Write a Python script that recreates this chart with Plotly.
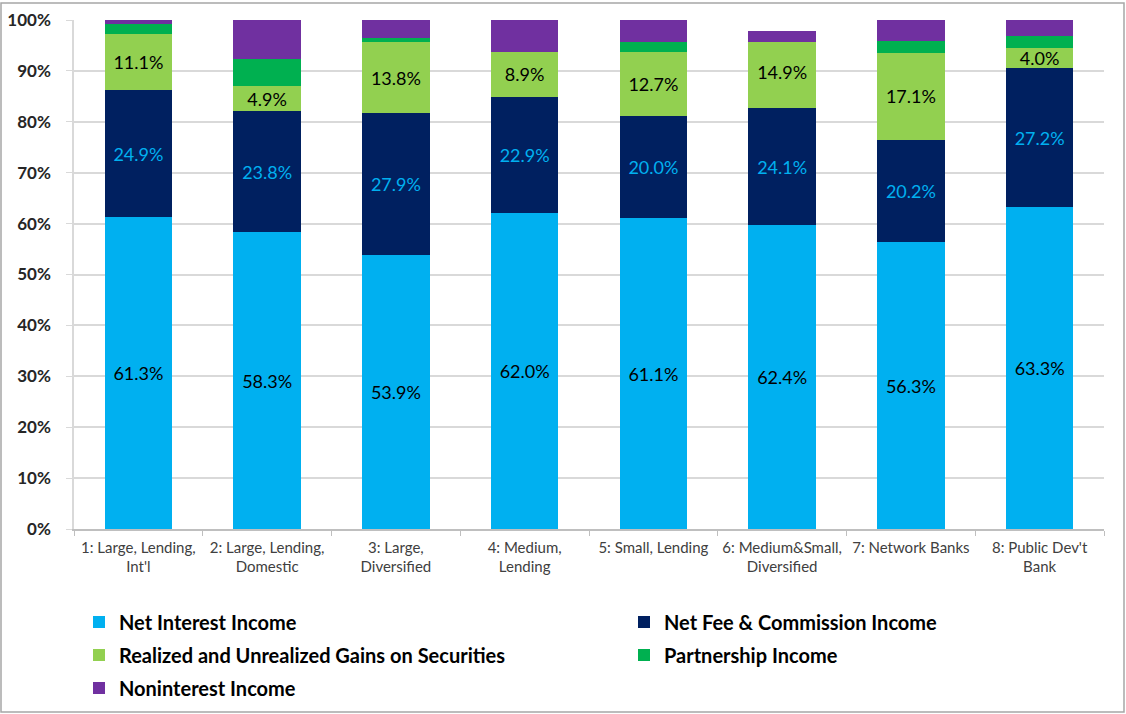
import plotly.graph_objects as go

# Peer-group income mix (percent of gross income)
categories = [
    "1: Large, Lending,<br>Int'l",
    "2: Large, Lending,<br>Domestic",
    "3: Large,<br>Diversified",
    "4: Medium,<br>Lending",
    "5: Small, Lending",
    "6: Medium&Small,<br>Diversified",
    "7: Network Banks",
    "8: Public Dev't<br>Bank",
]
net_interest = [61.3, 58.3, 53.9, 62.0, 61.1, 62.4, 56.3, 63.3]
net_fee = [24.9, 23.8, 27.9, 22.9, 20.0, 24.1, 20.2, 27.2]
gains = [11.1, 4.9, 13.8, 8.9, 12.7, 14.9, 17.1, 4.0]
partnership = [1.9, 5.4, 0.9, 0.0, 1.9, 0.9, 2.3, 2.4]
noninterest = [0.8, 7.6, 3.5, 6.2, 4.3, -2.3, 4.1, 3.1]

FONT = "Lato"
W, H = 1126, 714
ML, MR, MT, MB = 74, 22, 20, 185
PW, PH = W - ML - MR, H - MT - MB


def px_to_paper_y(py):
    return (H - MB - py) / PH


def px_to_paper_x(px):
    return (px - ML) / PW


# name, values, fill, label colour, show labels, legend id, legend text position (px)
series = [
    ("Net Interest Income", net_interest, "#00B0F0", "#000000", True, "legend", (120, 622)),
    ("Net Fee & Commission Income", net_fee, "#002060", "#00B0F0", True, "legend2", (665, 622)),
    ("Realized and Unrealized Gains on Securities", gains, "#92D050", "#000000", True, "legend3", (120, 655)),
    ("Partnership Income", partnership, "#00B050", "#000000", False, "legend4", (665, 655)),
    ("Noninterest Income", noninterest, "#7030A0", "#000000", False, "legend5", (120, 688)),
]

# 100% stacked: each component as a share of the absolute total per group
totals = [sum(abs(s[1][i]) for s in series) for i in range(len(categories))]

fig = go.Figure()
legends = {}
for name, vals, color, tcolor, labelled, leg, (lx, ly) in series:
    shares = [v / t * 100 for v, t in zip(vals, totals)]
    fig.add_trace(go.Bar(
        name=name,
        x=categories,
        y=shares,
        customdata=vals,
        marker=dict(color=color, line=dict(width=0)),
        texttemplate="%{customdata:.1f}%" if labelled else None,
        textposition="inside" if labelled else "none",
        insidetextanchor="middle",
        textangle=0,
        constraintext="none",
        textfont=dict(family=FONT, size=18, color=tcolor),
        legend=leg,
        hoverinfo="skip",
    ))
    legends[leg] = dict(
        orientation="v",
        xanchor="left",
        yanchor="middle",
        x=px_to_paper_x(lx - 41),
        y=px_to_paper_y(ly),
        font=dict(family=FONT, size=20, color="#000000", weight="bold"),
        bgcolor="rgba(0,0,0,0)",
        itemclick=False,
        itemdoubleclick=False,
    )

fig.update_layout(
    width=W,
    height=H,
    margin=dict(l=ML, r=MR, t=MT, b=MB, autoexpand=False),
    barmode="stack",
    bargap=0.474,
    plot_bgcolor="white",
    paper_bgcolor="white",
    font=dict(family=FONT),
    showlegend=True,
    **legends,
    xaxis=dict(
        showline=True,
        linecolor="#BFBFBF",
        linewidth=1.5,
        ticks="outside",
        tickson="boundaries",
        ticklen=5,
        tickcolor="#BFBFBF",
        tickangle=0,
        ticklabelstandoff=4,
        tickfont=dict(family=FONT, size=15, color="#404040"),
        showgrid=False,
    ),
    yaxis=dict(
        range=[0, 100],
        dtick=10,
        ticksuffix="%",
        showgrid=True,
        gridcolor="#D9D9D9",
        gridwidth=1.5,
        zeroline=False,
        showline=True,
        linecolor="#D9D9D9",
        linewidth=1.5,
        ticks="outside",
        ticklen=6,
        tickcolor="#D9D9D9",
        ticklabelstandoff=12,
        tickfont=dict(family=FONT, size=17, color="#262626", weight="bold"),
    ),
    shapes=[dict(
        type="rect",
        xref="paper", yref="paper",
        x0=px_to_paper_x(1), x1=px_to_paper_x(1124),
        y0=px_to_paper_y(712), y1=px_to_paper_y(3),
        line=dict(color="#A6A6A6", width=1.5),
        fillcolor="rgba(0,0,0,0)",
        layer="below",
    )],
)

fig.write_html("out.html")
